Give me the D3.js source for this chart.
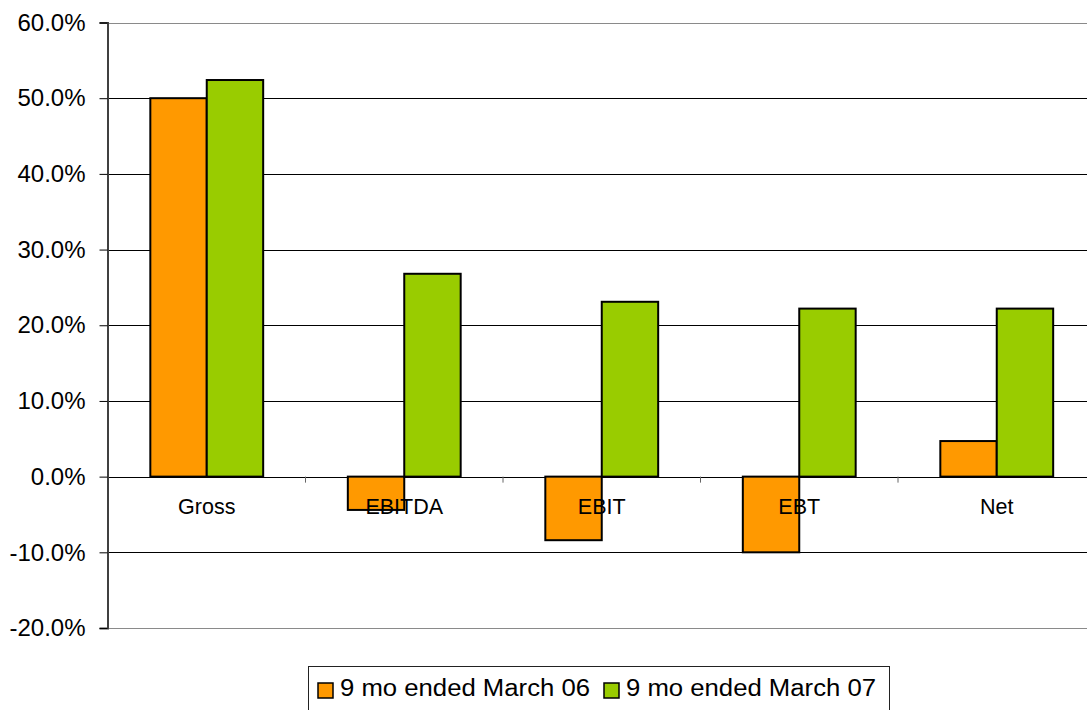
<!DOCTYPE html>
<html>
<head>
<meta charset="utf-8">
<script src="https://cdn.jsdelivr.net/npm/d3@7"></script>
<style>
  body { margin: 0; background: #fff; }
  text { font-family: "Liberation Sans", Arial, sans-serif; fill: #000; }
</style>
</head>
<body>
<script>
const categories = ["Gross", "EBITDA", "EBIT", "EBT", "Net"];
const seriesNames = ["9 mo ended March 06", "9 mo ended March 07"];
const march06 = [50.0, -4.4, -8.4, -10.0, 4.7];
const march07 = [52.4, 26.8, 23.1, 22.2, 22.2];
const yTicks = [-20, -10, 0, 10, 20, 30, 40, 50, 60];
const colors = ["#ff9900", "#99cc00"];

const width = 1087, height = 710;
const svg = d3.select("body").append("svg")
    .attr("width", width)
    .attr("height", height);

// plot area runs past the right edge of the picture
const x0 = d3.scaleBand().domain(categories).range([108, 1095.5]);
const x1 = d3.scaleBand().domain([0, 1])
    .range([0, x0.bandwidth()])
    .paddingOuter(0.75);
const y = d3.scaleLinear().domain([-20, 60]).range([628, 22.5]);

// gridlines
svg.append("g").selectAll("line")
    .data(yTicks)
    .enter().append("line")
    .attr("x1", 108).attr("x2", width)
    .attr("y1", d => Math.round(y(d)) + 0.5)
    .attr("y2", d => Math.round(y(d)) + 0.5)
    .attr("stroke", d => (d === 60 || d === -20) ? "#8a8a8a" : "#000")
    .attr("stroke-width", 1);

// y axis
const yAxis = d3.axisLeft(y)
    .tickValues(yTicks)
    .tickSize(8)
    .tickPadding(14)
    .tickFormat(d => d.toFixed(1) + "%");
const gy = svg.append("g").attr("transform", "translate(107.5,0)").call(yAxis);
gy.select(".domain").attr("stroke", "#404040").attr("stroke-width", 2);
gy.selectAll(".tick line").attr("stroke", "#000");
gy.selectAll(".tick text")
    .style("font-size", "24px")
    .style("font-family", "'Liberation Sans', Arial, sans-serif")
    .attr("fill", "#000");

// bars
const rows = categories.map((c, i) => ({ cat: c, vals: [march06[i], march07[i]] }));
const groups = svg.append("g").selectAll("g")
    .data(rows)
    .enter().append("g")
    .attr("transform", d => `translate(${x0(d.cat)},0)`);

groups.selectAll("rect")
    .data(d => d.vals.map((v, k) => ({ v, k })))
    .enter().append("rect")
    .attr("x", d => x1(d.k))
    .attr("width", x1.bandwidth())
    .attr("y", d => y(Math.max(0, d.v)))
    .attr("height", d => Math.abs(y(d.v) - y(0)))
    .attr("fill", d => colors[d.k])
    .attr("stroke", "#000")
    .attr("stroke-width", 2);

// x axis ticks at category boundaries
const bounds = categories.map(c => x0(c)).slice(1);
svg.append("g").selectAll("line")
    .data(bounds)
    .enter().append("line")
    .attr("x1", d => d).attr("x2", d => d)
    .attr("y1", y(0)).attr("y2", y(0) + 6)
    .attr("stroke", "#666");

// category labels
svg.append("g").selectAll("text")
    .data(categories)
    .enter().append("text")
    .attr("x", d => x0(d) + x0.bandwidth() / 2)
    .attr("y", 514)
    .attr("text-anchor", "middle")
    .style("font-size", "21.5px")
    .text(d => d);

// legend
const legend = svg.append("g");
legend.append("rect")
    .attr("x", 308.5).attr("y", 666.5)
    .attr("width", 581).attr("height", 60)
    .attr("fill", "#fff")
    .attr("stroke", "#222");

const legendX = [318, 604];
seriesNames.forEach((name, i) => {
    legend.append("rect")
        .attr("x", legendX[i]).attr("y", 683)
        .attr("width", 15).attr("height", 15)
        .attr("fill", colors[i])
        .attr("stroke", "#000")
        .attr("stroke-width", 1.5);
    legend.append("text")
        .attr("x", legendX[i] + 22)
        .attr("y", 696)
        .attr("textLength", 250)
        .attr("lengthAdjust", "spacingAndGlyphs")
        .style("font-size", "23.5px")
        .text(name);
});
</script>
</body>
</html>
